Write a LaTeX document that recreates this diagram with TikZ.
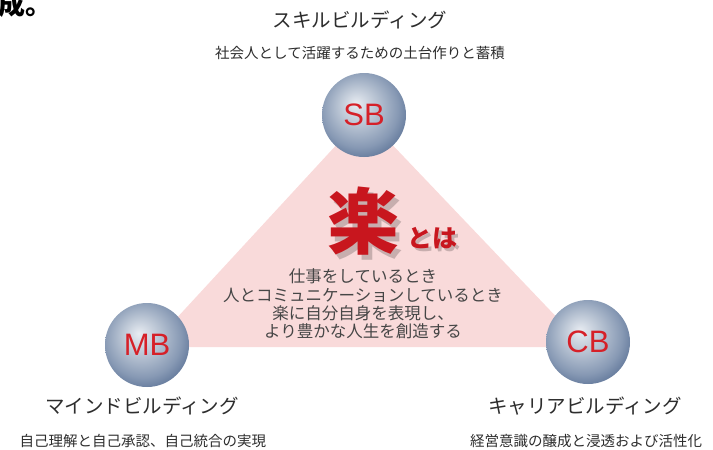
\documentclass[tikz,border=0pt]{standalone}
\usepackage{fontspec}
\setmainfont{Noto Sans CJK JP}
\newfontfamily\latinsans{Liberation Sans}
\definecolor{trifill}{RGB}{249,218,218}
\definecolor{rakured}{RGB}{200,22,30}
\definecolor{letred}{RGB}{214,32,40}
\definecolor{sphA}{RGB}{232,236,242}
\definecolor{sphB}{RGB}{186,197,212}
\definecolor{sphC}{RGB}{135,153,180}
\definecolor{sphD}{RGB}{80,104,142}
\definecolor{sphE}{RGB}{58,82,122}
\definecolor{titlegray}{RGB}{45,45,45}
\definecolor{bodygray}{RGB}{70,70,70}
\pgfdeclareradialshading{sphshade}{\pgfpoint{-5bp}{7bp}}{color(0bp)=(sphA); color(11bp)=(sphB); color(23bp)=(sphC); color(33bp)=(sphD); color(50bp)=(sphE)}
\tikzset{
  sphere/.style={circle, minimum size=84pt, inner sep=0pt, shading=sphshade,
    font=\latinsans\fontsize{31}{31}\selectfont, text=letred},
  titletext/.style={font=\fontsize{19.5}{20}\selectfont, text=titlegray, inner sep=0pt},
  subtext/.style={font=\fontsize{14.5}{15}\selectfont, text=titlegray, inner sep=0pt},
  bodytext/.style={font=\fontsize{16.5}{18.4}\selectfont, text=bodygray, align=center, inner sep=0pt},
}
\begin{document}
\begin{tikzpicture}[x=1pt,y=-1pt]
\useasboundingbox (0,0) rectangle (713,450);
% fragment at top-left
\node[anchor=base west, inner sep=0pt, font=\bfseries\fontsize{27}{27}\selectfont, text=black] (frag) at (-2,14) {成。};
% triangle corners
\coordinate (tA) at (364,115);
\coordinate (tB) at (150,347);
\coordinate (tC) at (585,347);
\fill[trifill] (tA) -- (tB) -- (tC) -- cycle;
% spheres
\node[sphere] (SB) at (364,115) {SB};
\node[sphere] (MB) at (147,345) {MB};
\node[sphere] (CB) at (588,342) {CB};
% titles
\node[titletext] (sbt) at (360,20) {スキルビルディング};
\node[subtext] (sbs) at (360,53) {社会人として活躍するための土台作りと蓄積};
\node[titletext] (mbt) at (142,406) {マインドビルディング};
\node[subtext] (mbs) at (143,441) {自己理解と自己承認、自己統合の実現};
\node[titletext] (cbt) at (585,406) {キャリアビルディング};
\node[subtext] (cbs) at (586,441) {経営意識の醸成と浸透および活性化};
% center heading with shadow
\node[inner sep=0pt, font=\bfseries\fontsize{72}{72}\selectfont, text=black, opacity=0.2] (rakush) at (367,226) {楽};
\node[inner sep=0pt, font=\bfseries\fontsize{72}{72}\selectfont, text=rakured] (raku) at (363,221) {楽};
\node[inner sep=0pt, font=\bfseries\fontsize{25}{25}\selectfont, text=black, opacity=0.2] (tohash) at (435,241) {とは};
\node[inner sep=0pt, font=\bfseries\fontsize{25}{25}\selectfont, text=rakured] (toha) at (432,238) {とは};
% body
\node[bodytext] (body) at (363,304) {仕事をしているとき\\人とコミュニケーションしているとき\\楽に自分自身を表現し、\\より豊かな人生を創造する};
\end{tikzpicture}
\end{document}
